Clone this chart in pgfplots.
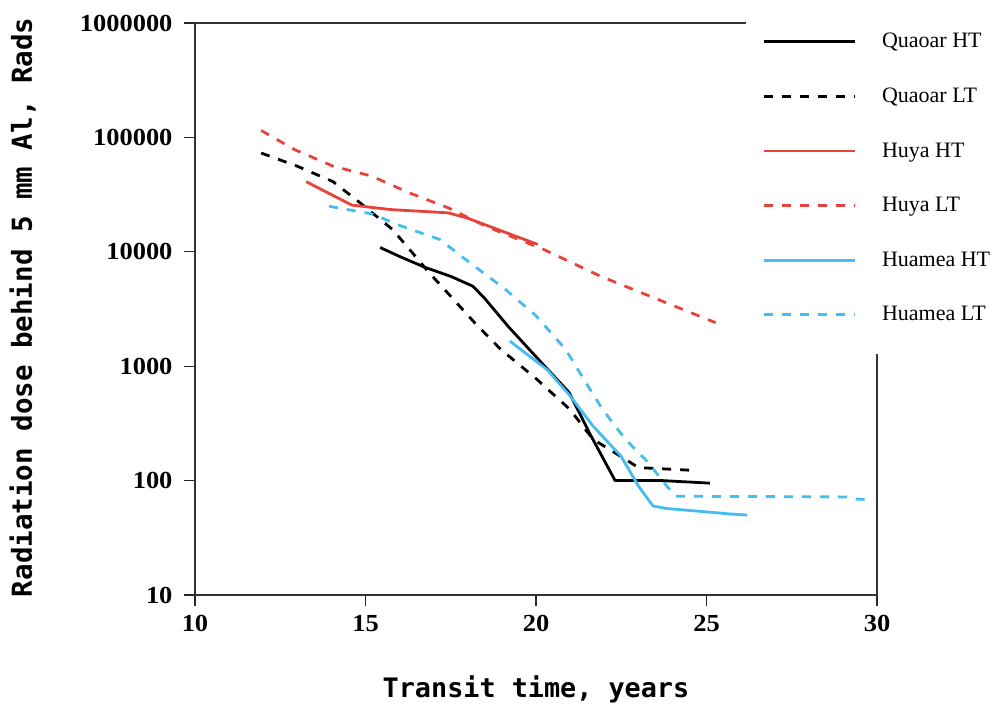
\documentclass[border=0pt]{standalone}
\usepackage{fontspec}
\setmainfont{Liberation Serif}
\newfontfamily\tickfont[FakeStretch=1.08]{Liberation Serif}
\newfontfamily\labfont{DejaVu Sans Mono}
\usepackage{pgfplots}
\pgfplotsset{compat=1.18}
\definecolor{hred}{HTML}{E8433A}
\definecolor{hblue}{HTML}{45BDF0}
\tikzset{lw/.style={line width=2.8pt, line join=round}, dsh/.style={dash pattern=on 9pt off 9pt}}
\begin{document}
\begin{tikzpicture}
\begin{axis}[
  name=ax,
  scale only axis,
  width=682pt, height=572pt,
  xmin=10, xmax=30,
  ymode=log, ymin=10, ymax=1000000,
  xtick={10,15,20,25,30},
  xticklabels={10,15,20,25,30},
  ytick={10,100,1000,10000,100000,1000000},
  yticklabels={10,100,1000,10000,100000,1000000},
  yminorticks=false,
  xtick pos=bottom, ytick pos=left,
  tick align=outside,
  major tick length=11pt,
  tick style={line width=1.2pt, color=black!85},
  axis line style={line width=1.5pt, color=black!80},
  ticklabel style={font=\tickfont\bfseries\fontsize{24.5}{26}\selectfont},
  xticklabel style={yshift=-6pt},
  yticklabel style={xshift=-8pt},
  xlabel={Transit time, years},
  ylabel={Radiation dose behind 5 mm Al, Rads},
  every axis x label/.style={at={(axis description cs:0.5,0)}, anchor=base, yshift=-102pt,
    font=\labfont\bfseries\fontsize{26.8}{30}\selectfont},
  every axis y label/.style={at={(axis description cs:-0.239,0.503)}, anchor=base, rotate=90,
    font=\labfont\bfseries\fontsize{27.5}{30}\selectfont},
  legend cell align=left,
  legend image code/.code={\draw[#1] (0pt,2pt) -- (91pt,2pt);},
  legend style={at={(rel axis cs:0.808,1.0295)}, anchor=north west,
    fill=white, draw=none, inner xsep=16pt, inner ysep=31.5pt,
    font=\fontsize{22}{24}\selectfont,
    nodes={inner sep=0pt, text height=10pt, text depth=2pt},
    row sep=42.6pt,
    /tikz/every odd column/.append style={column sep=26pt}},
]
\addplot[black, lw] coordinates {
(15.43,10900) (16.0,9100) (16.75,7300) (17.5,6100) (18.15,5000) (18.5,3900)
(19.2,2200) (20.19,1050) (20.97,590) (21.6,250) (22.32,100) (23.7,100) (25.1,95)};
\addlegendentry{Quaoar HT}
\addplot[black, lw, dsh] coordinates {
(11.94,73000) (13.0,56000) (14.05,41000) (14.84,26800) (15.79,15700) (16.29,10500)
(16.86,6600) (17.43,4300) (18.2,2400) (18.97,1400) (20.0,780) (20.99,420)
(21.67,230) (22.6,155) (23.0,130) (24.57,123)};
\addlegendentry{Quaoar LT}
\addplot[hred, lw] coordinates {
(13.26,41000) (14.6,25600) (15.73,23400) (17.42,21900) (17.97,19800)
(18.87,15700) (20.05,11600)};
\addlegendentry{Huya HT}
\addplot[hred, lw, dsh] coordinates {
(11.94,115000) (12.93,78000) (14.05,56000) (15.17,46000) (16.29,32700)
(17.43,24200) (18.53,16700) (20.22,10500) (21.9,6100) (23.58,3830) (25.27,2400)};
\addlegendentry{Huya LT}
\addplot[hblue, lw] coordinates {
(19.23,1660) (20.33,930) (21.0,550) (21.67,300) (22.49,164) (23.0,90)
(23.43,60) (23.83,57) (24.77,54) (25.72,51) (26.2,50)};
\addlegendentry{Huamea HT}
\addplot[hblue, lw, dsh] coordinates {
(13.93,25000) (15.17,21500) (16.07,16700) (17.18,12800) (18.09,7900)
(19.1,4700) (20.0,2760) (20.87,1400) (21.4,770) (21.95,420) (22.62,230)
(23.29,144) (23.83,90) (24.1,73) (29.08,72) (29.36,69) (29.9,68)};
\addlegendentry{Huamea LT}
\end{axis}
\pgfresetboundingbox
\path[use as bounding box] (ax.south west) ++(-195pt,-111pt) rectangle ++(992pt,706pt);
\end{tikzpicture}
\end{document}
